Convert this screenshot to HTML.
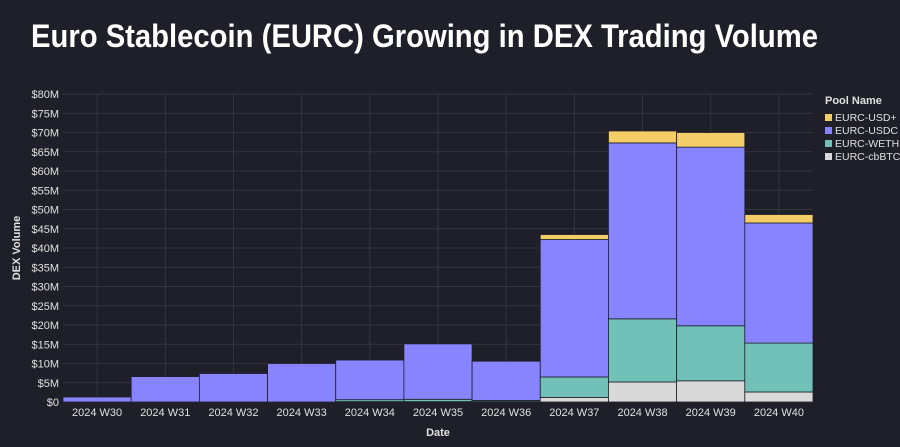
<!DOCTYPE html>
<html><head><meta charset="utf-8"><style>
html,body{margin:0;padding:0;background:#1e1f28;width:900px;height:447px;overflow:hidden}
svg{display:block;font-family:"Liberation Sans",sans-serif}
</style></head><body>
<svg id="c" width="900" height="447">
<rect width="900" height="447" fill="#1e1f28"/>
<text x="31" y="47" fill="#ffffff" font-size="32" font-weight="bold" textLength="787" lengthAdjust="spacingAndGlyphs">Euro Stablecoin (EURC) Growing in DEX Trading Volume</text>
<g id="grid"></g><g id="bars"></g><g id="axes"></g>
<text x="20" y="248" fill="#e0e0e0" font-size="11" font-weight="bold" transform="rotate(-90 20 248)" text-anchor="middle">DEX Volume</text>
<text x="438" y="436" fill="#e0e0e0" font-size="11" font-weight="bold" text-anchor="middle">Date</text>
<g id="legend"></g>
</svg>
<script>
const categories=["2024 W30","2024 W31","2024 W32","2024 W33","2024 W34","2024 W35","2024 W36","2024 W37","2024 W38","2024 W39","2024 W40"];
const seriesNames=["EURC-cbBTC","EURC-WETH","EURC-USDC","EURC-USD+"];
const cbBTC=[0,0,0,0,0.1,0.1,0.1,1.2,5.2,5.5,2.6];
const weth=[0,0,0,0,0.5,0.6,0.3,5.3,16.4,14.3,12.7];
const usdc=[1.3,6.6,7.4,10,10.3,14.4,10.2,35.7,45.7,46.4,31.2];
const usdPlus=[0,0,0,0,0,0,0,1.3,3.1,3.8,2.2];
const yTicks=[0,5,10,15,20,25,30,35,40,45,50,55,60,65,70,75,80];
const colors=["#d9d9d9","#71c1b8","#8883fe","#f2cd68"];
const X0=63,X1=813,Y0=402,Y1=94,YMAX=80;
const y=v=>Y0-(v/YMAX)*(Y0-Y1);
const bw=(X1-X0)/categories.length;
const x=i=>X0+i*bw;
const NS="http://www.w3.org/2000/svg";
function mk(t,a,p){const e=document.createElementNS(NS,t);for(const k in a)e.setAttribute(k,a[k]);p.appendChild(e);return e;}
const grid=document.getElementById('grid'),bars=document.getElementById('bars'),axes=document.getElementById('axes'),leg=document.getElementById('legend');
yTicks.forEach(t=>{
 const l=mk('line',{x1:X0,x2:X1,y1:y(t),y2:y(t),stroke:'#33353f','stroke-width':1},grid);
 
 
 const tx=mk('text',{x:X0-4,y:y(t)+4,fill:'#e0e0e0','font-size':11,'text-anchor':'end'},axes);
 tx.textContent='$'+t+(t?'M':'');
 
 
});
categories.forEach((c,i)=>{
 const g=mk('line',{x1:x(i)+bw/2,x2:x(i)+bw/2,y1:Y1,y2:Y0,stroke:'#33353f','stroke-width':1},grid);
 
 
 const tx=mk('text',{x:x(i)+bw/2,y:Y0+14,fill:'#e0e0e0','font-size':11,'text-anchor':'middle'},axes);
 tx.textContent=c;
 
 
 let base=0;
 [cbBTC,weth,usdc,usdPlus].forEach((s,k)=>{
  const v=s[i];if(v<=0)return;
  const r=mk('rect',{x:x(i),y:y(base+v),width:bw,height:y(base)-y(base+v),fill:colors[k],stroke:'#1e1f28','stroke-width':0.8},bars);
  
  
  base+=v;
 });
});
const lt=mk('text',{x:825,y:104,fill:'#e0e0e0','font-size':11,'font-weight':'bold'},leg);
lt.textContent='Pool Name';


[3,2,1,0].forEach((k,j)=>{
 const g=mk('g',{},leg);
 
 
 mk('rect',{x:825,y:114+j*13,width:7,height:7,fill:colors[k]},g);
 const t=mk('text',{x:835,y:121+j*13,fill:'#e0e0e0','font-size':10.5},g);
 t.textContent=seriesNames[k];
});
</script>
</body></html>
